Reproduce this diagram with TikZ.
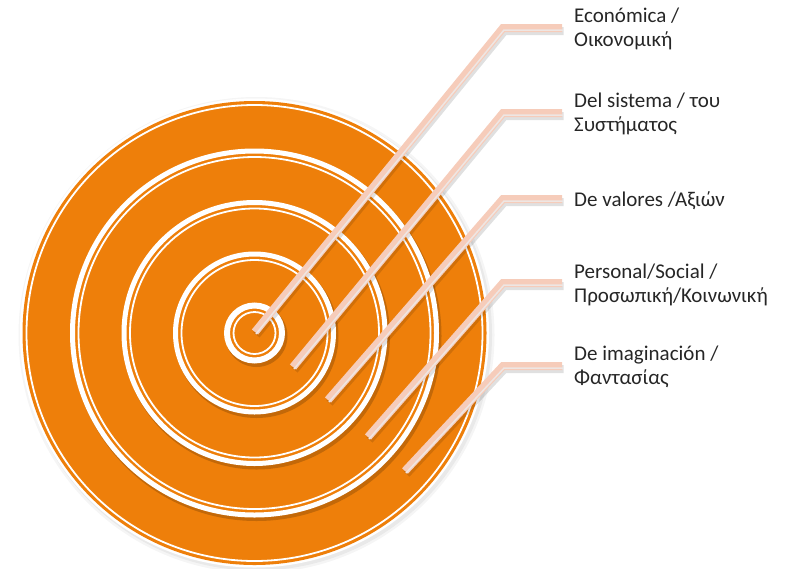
\documentclass[tikz,border=0pt]{standalone}
\usepackage{fontspec}
\setmainfont{Carlito}
\definecolor{targetorange}{RGB}{238,127,10}
\definecolor{dartpeach}{RGB}{246,204,186}
\definecolor{dartshine}{RGB}{238,230,227}
\tikzset{
	ringband/.style={draw=white, line width=5pt, fill=targetorange},
	ringline/.style={draw=white, line width=1.8pt},
	ringshadow/.style={fill=black, opacity=0.18},
	dart/.style={draw=dartpeach, line width=8pt, line join=miter,
		preaction={draw=black, opacity=0.12, line width=8pt, transform canvas={shift={(1.5pt,-3pt)}}},
		postaction={draw=dartshine, line width=1.5pt, transform canvas={shift={(1pt,-2pt)}}}},
	lbltext/.style={anchor=west, align=left, inner sep=0pt, text=black!85,
		font=\fontsize{21}{23.4}\selectfont}
}

\begin{document}
\begin{tikzpicture}[x=1pt, y=-1pt]
	\useasboundingbox (0,0) rectangle (794,568);
	\coordinate (c) at (254.5,333);
	% outer glow and outer disk
	\fill [black, opacity=0.04] ([shift={(2,2)}]c) circle (238);
	\fill [black, opacity=0.05] ([shift={(2,2)}]c) circle (235.5);
	\fill [white] (c) circle (234.5);
	\fill [targetorange] (c) circle (232);
	\draw [ringline] (c) circle (228);
	% inner disks
	\fill [ringshadow] ([shift={(2,3)}]c) circle (185);
	\draw [ringband] (c) circle (182);
	\draw [ringline] (c) circle (176);
	\fill [ringshadow] ([shift={(2,3)}]c) circle (133.5);
	\draw [ringband] (c) circle (130.5);
	\draw [ringline] (c) circle (124.5);
	\fill [ringshadow] ([shift={(2,3)}]c) circle (82);
	\draw [ringband] (c) circle (79);
	\draw [ringline] (c) circle (73);
	\fill [ringshadow] ([shift={(2,3)}]c) circle (31);
	\draw [ringband, line width=6pt] (c) circle (27.5);
	\draw [ringline] (c) circle (21);
	% labels
	\node [lbltext] (eco) at (574,29) {Económica /\\Οικονομική};
	\node [lbltext] (sys) at (574,114) {Del sistema / του\\Συστήματος};
	\node [lbltext] (val) at (574,201) {De valores /Αξιών};
	\node [lbltext] (soc) at (574,285) {Personal/Social /\\Προσωπική/Κοινωνική};
	\node [lbltext] (ima) at (574,367) {De imaginación /\\Φαντασίας};
	% darts
	\coordinate (tipeco) at (255,332);
	\coordinate (tipsys) at (293,367);
	\coordinate (tipval) at (328,400);
	\coordinate (tipsoc) at (368,437);
	\coordinate (tipima) at (405,471);
	\coordinate (bendeco) at (503,28);
	\coordinate (bendsys) at (503,113);
	\coordinate (bendval) at (503,199);
	\coordinate (bendsoc) at (503,283);
	\coordinate (bendima) at (503,366);
	\draw [dart] (tipeco) -- (bendeco) -- ([xshift=-12pt]bendeco -| eco.west);
	\draw [dart] (tipsys) -- (bendsys) -- ([xshift=-12pt]bendsys -| sys.west);
	\draw [dart] (tipval) -- (bendval) -- ([xshift=-12pt]bendval -| val.west);
	\draw [dart] (tipsoc) -- (bendsoc) -- ([xshift=-12pt]bendsoc -| soc.west);
	\draw [dart] (tipima) -- (bendima) -- ([xshift=-12pt]bendima -| ima.west);
\end{tikzpicture}
\end{document}
